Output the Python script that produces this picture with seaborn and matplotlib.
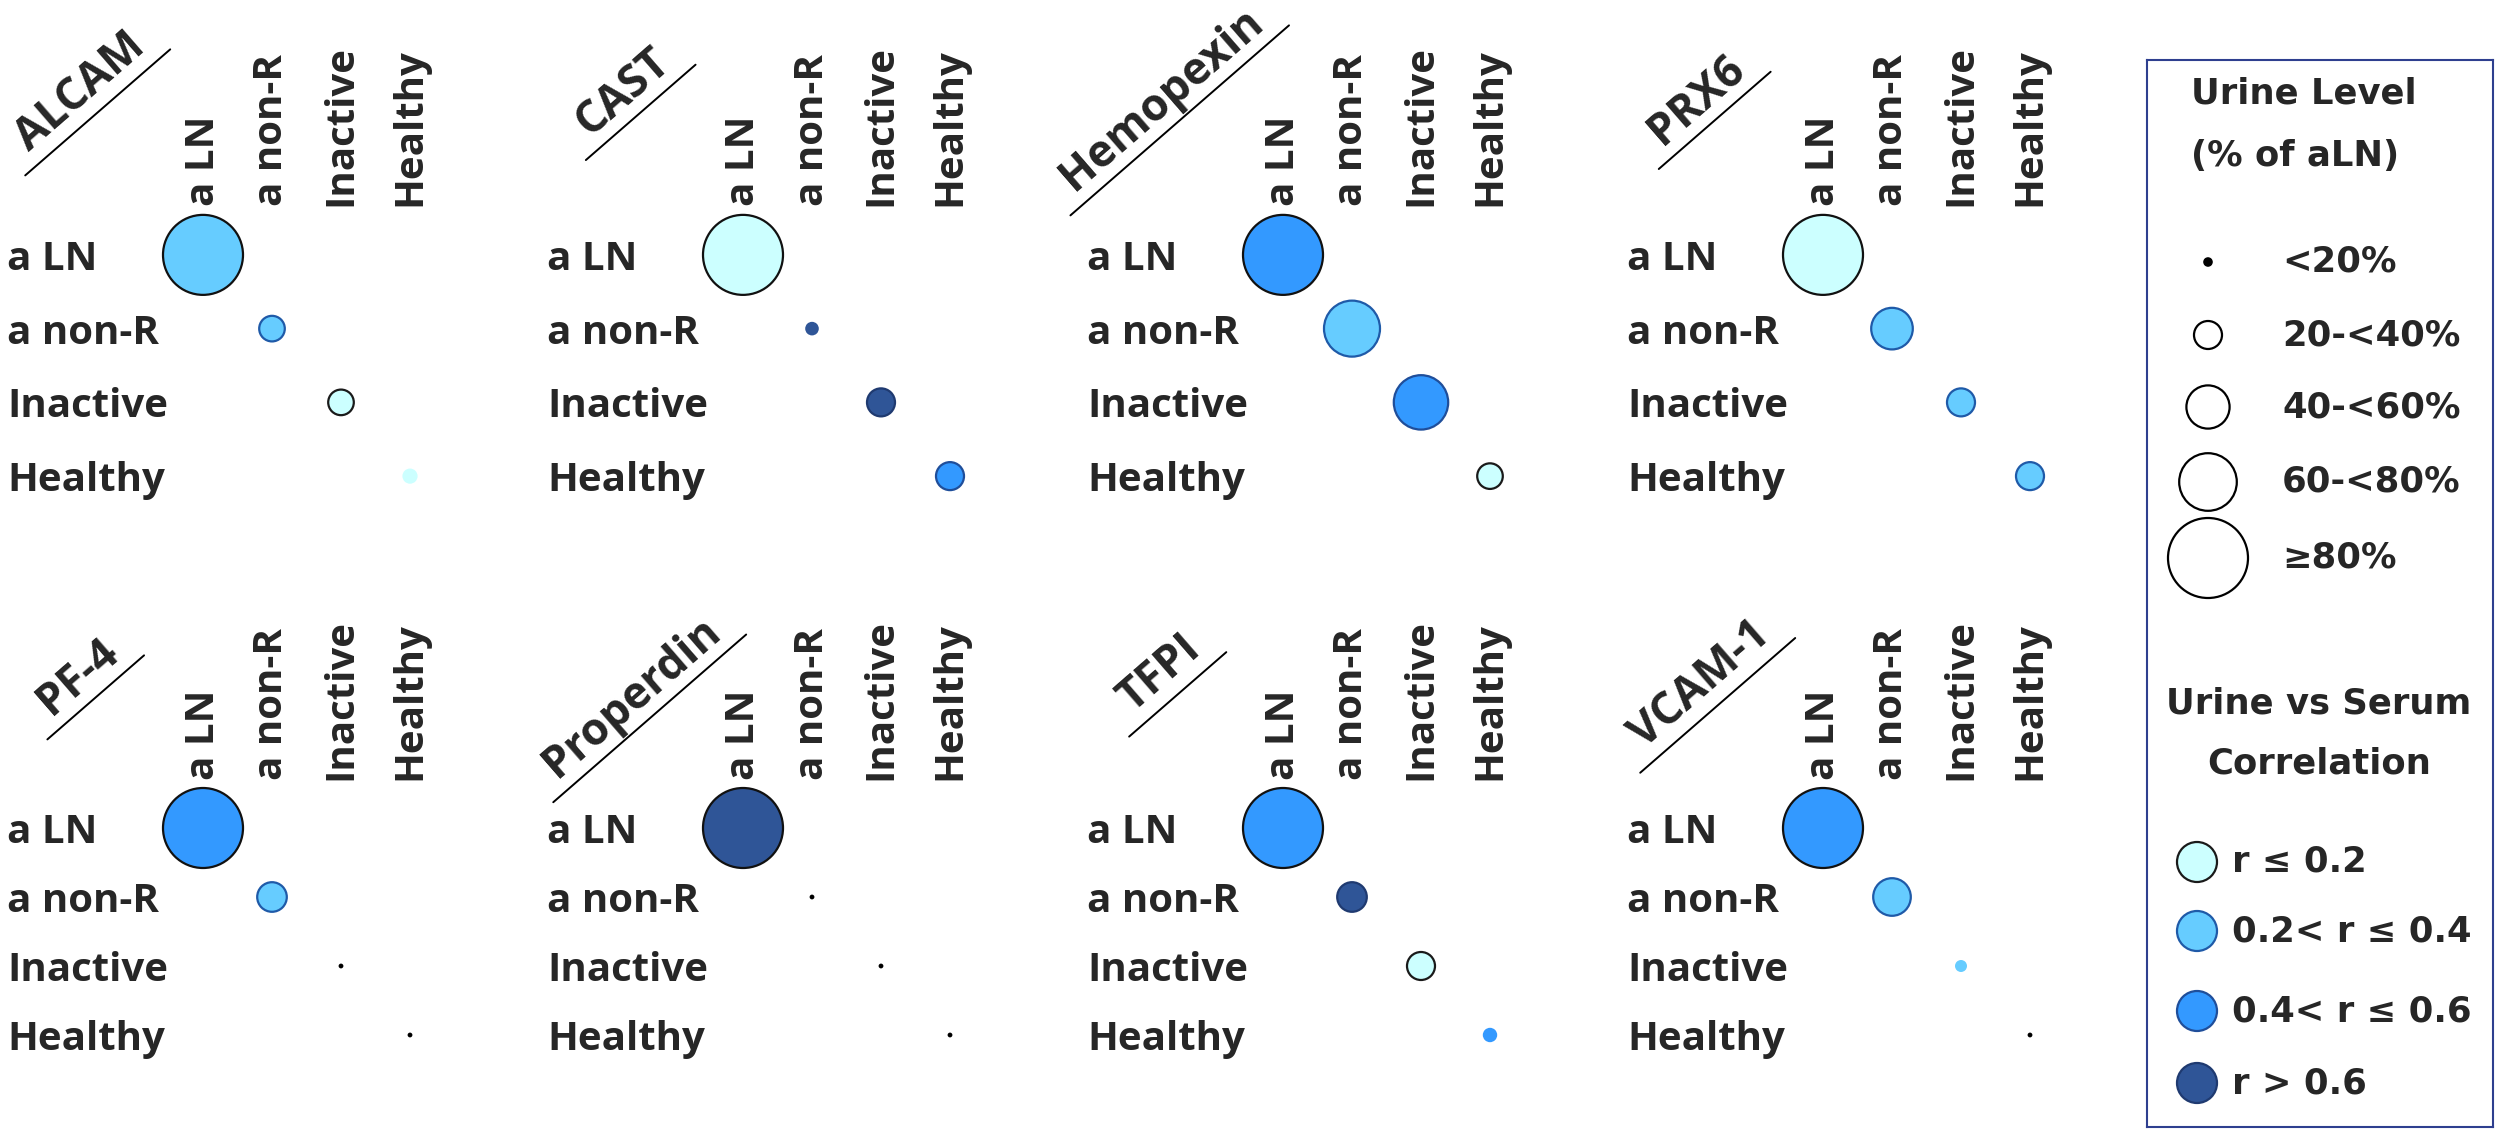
import numpy as np
import pandas as pd
import matplotlib
matplotlib.use("Agg")
import matplotlib.pyplot as plt
import seaborn as sns
from matplotlib.lines import Line2D

# ---- data ----
groups = ["a LN", "a non-R", "Inactive", "Healthy"]
proteins = ["ALCAM", "CAST", "Hemopexin", "PRX6",
            "PF-4", "Properdin", "TFPI", "VCAM-1"]

# urine level (% of aLN) for a LN, a non-R, Inactive, Healthy
alcam_level = [100, 32, 32, 19]
cast_level = [100, 17, 35, 35]
hemopexin_level = [100, 70, 68, 32]
prx6_level = [100, 52, 35, 35]
pf4_level = [100, 37, 6, 6]
properdin_level = [100, 6, 6, 6]
tfpi_level = [100, 37, 35, 18]
vcam1_level = [100, 47, 15, 6]

# urine vs serum correlation class
corr_labels = ["r \u2264 0.2", "0.2< r \u2264 0.4", "0.4< r \u2264 0.6", "r > 0.6"]
alcam_corr = ["0.2< r \u2264 0.4", "0.2< r \u2264 0.4", "r \u2264 0.2", "r \u2264 0.2"]
cast_corr = ["r \u2264 0.2", "r > 0.6", "r > 0.6", "0.4< r \u2264 0.6"]
hemopexin_corr = ["0.4< r \u2264 0.6", "0.2< r \u2264 0.4", "0.4< r \u2264 0.6", "r \u2264 0.2"]
prx6_corr = ["r \u2264 0.2", "0.2< r \u2264 0.4", "0.2< r \u2264 0.4", "0.2< r \u2264 0.4"]
pf4_corr = ["0.4< r \u2264 0.6", "0.2< r \u2264 0.4", "none", "none"]
properdin_corr = ["r > 0.6", "none", "none", "none"]
tfpi_corr = ["0.4< r \u2264 0.6", "r > 0.6", "r \u2264 0.2", "0.4< r \u2264 0.6"]
vcam1_corr = ["0.4< r \u2264 0.6", "0.2< r \u2264 0.4", "0.2< r \u2264 0.4", "none"]

levels = [alcam_level, cast_level, hemopexin_level, prx6_level,
          pf4_level, properdin_level, tfpi_level, vcam1_level]
corrs = [alcam_corr, cast_corr, hemopexin_corr, prx6_corr,
         pf4_corr, properdin_corr, tfpi_corr, vcam1_corr]

size_labels = ["<20%", "20-<40%", "40-<60%", "60-<80%", "\u226580%"]
size_levels = [12, 35, 54, 72, 100]
corr_legend_level = 50

# ---- style ----
W, H, DPI = 2498, 1143, 100
palette = {"r \u2264 0.2": "#CCFFFF", "0.2< r \u2264 0.4": "#66CCFF",
           "0.4< r \u2264 0.6": "#3399FF", "r > 0.6": "#2F5597",
           "none": "#000000", "blank": "#FFFFFF"}
edge_dark = {"r \u2264 0.2": "#1a1a1a", "0.2< r \u2264 0.4": "#1F5AA8",
             "0.4< r \u2264 0.6": "#1F4E9A", "r > 0.6": "#1F3A70",
             "none": "#000000", "blank": "#000000"}
S_MAX = (2 * 40 * 72 / DPI) ** 2  # marker area for 100 %

sns.set_style("white")
plt.rcParams["font.family"] = ["Open Sans", "DejaVu Sans"]
FS = 29
WEIGHT = "bold"
LEG_FONT = ["DejaVu Sans"]
LEG_FS = 25.5

fig = plt.figure(figsize=(W / DPI, H / DPI), dpi=DPI)


def fx(x):
    return x / W


def fy(y):
    return 1 - y / H


col_x0 = [0, 540, 1080, 1620]
rows_px = {0: (218, 513), 1: (793.5, 1069.5)}
xpad = {0: 8.5, 1: 10}
title_xy = [(80, 92), (623, 92), (1162, 100), (1697, 100),
            (78, 677), (632, 698), (1160, 674), (1700, 685)]


def draw_panel(k):
    row, col = divmod(k, 4)
    x0 = col_x0[col]
    top, bot = rows_px[row]
    left = x0 + 168.5
    ax = fig.add_axes([fx(left), fy(bot), 276 / W, (bot - top) / H])
    df = pd.DataFrame({"group": groups, "level": levels[k], "corr": corrs[k]})
    df["area"] = df["level"] ** 2
    sns.scatterplot(data=df, x="group", y="group", hue="corr", palette=palette,
                    size="area", sizes=(0, S_MAX), size_norm=(0, 10000),
                    legend=False, ax=ax, clip_on=False)
    pts = ax.collections[-1]
    pts.set_edgecolors([edge_dark[c] if lv < 90 else "#111111"
                        for c, lv in zip(df["corr"], df["level"])])
    pts.set_linewidths([1.6 if lv >= 20 else 0 for lv in df["level"]])

    ax.set_xlim(-0.5, 3.5)
    ax.set_ylim(3.5, -0.5)
    ax.set_xticks(range(4))
    ax.set_xticklabels(groups)
    ax.set_yticks(range(4))
    ax.set_yticklabels(groups)
    ax.xaxis.tick_top()
    ax.tick_params(axis="x", length=0, pad=xpad[row], labelrotation=90,
                   labelsize=FS)
    ax.tick_params(axis="y", length=0, pad=(left - x0 - 7) * 72 / DPI,
                   labelsize=FS)
    for lab in ax.get_xticklabels() + ax.get_yticklabels():
        lab.set_fontweight(WEIGHT)
    for lab in ax.get_yticklabels():
        lab.set_ha("left")
    ax.set_xlabel("")
    ax.set_ylabel("")
    for s in ax.spines.values():
        s.set_visible(False)
    ax.patch.set_alpha(0)


for k in range(8):
    draw_panel(k)

# rotated underlined titles
renderer = fig.canvas.get_renderer()
ROT = 41
ang = np.deg2rad(ROT)
for name, (cx, cy) in zip(proteins, title_xy):
    t = fig.text(fx(cx), fy(cy), name, rotation=ROT, rotation_mode="anchor",
                 ha="center", va="center", fontsize=32, fontweight=WEIGHT)
    w, h, d = renderer.get_text_width_height_descent(
        name, t.get_fontproperties(), ismath=False)
    half = w / 2 + 18
    off = 27
    ux, uy = cx + off * np.sin(ang), cy + off * np.cos(ang)
    x1, y1 = ux - half * np.cos(ang), uy + half * np.sin(ang)
    x2, y2 = ux + half * np.cos(ang), uy - half * np.sin(ang)
    fig.add_artist(Line2D([fx(x1), fx(x2)], [fy(y1), fy(y2)],
                          transform=fig.transFigure, color="black", lw=1.4))

# legend box
lx0, lx1, ly0, ly1 = 2147, 2493, 60, 1127
lax = fig.add_axes([fx(lx0), fy(ly1), (lx1 - lx0) / W, (ly1 - ly0) / H])
lax.set_xlim(lx0, lx1)
lax.set_ylim(ly1, ly0)
lax.set_xticks([])
lax.set_yticks([])
for s in lax.spines.values():
    s.set_color("#2E3F8F")
    s.set_linewidth(1.5)

size_y = [262, 335, 407, 482, 558]
leg_size = pd.DataFrame({"x": [2208] * 5, "y": size_y,
                         "area": np.array(size_levels) ** 2,
                         "fill": ["none"] + ["blank"] * 4})
sns.scatterplot(data=leg_size, x="x", y="y", hue="fill", palette=palette,
                size="area", sizes=(0, S_MAX), size_norm=(0, 10000),
                legend=False, ax=lax, clip_on=False)
lax.collections[-1].set_edgecolors("#000000")
lax.collections[-1].set_linewidths([0] + [1.6] * 4)

corr_y = [862, 931, 1011, 1083]
leg_corr = pd.DataFrame({"x": [2197] * 4, "y": corr_y,
                         "area": [corr_legend_level ** 2] * 4,
                         "corr": corr_labels})
sns.scatterplot(data=leg_corr, x="x", y="y", hue="corr", palette=palette,
                size="area", sizes=(0, S_MAX), size_norm=(0, 10000),
                legend=False, ax=lax, clip_on=False)
lax.collections[-1].set_edgecolors([edge_dark[c] for c in corr_labels])
lax.collections[-1].set_linewidths(1.6)
lax.set_xlabel("")
lax.set_ylabel("")

tkw = dict(fontsize=LEG_FS, fontweight="bold", va="center", family=LEG_FONT)
lax.text(2191, 94, "Urine Level", ha="left", **tkw)
lax.text(2191, 156, "(% of aLN)", ha="left", **tkw)
for lab, y in zip(size_labels, size_y):
    lax.text(2282, y, lab, ha="left", **tkw)
lax.text(2319, 703, "Urine vs Serum", ha="center", **tkw)
lax.text(2319, 764, "Correlation", ha="center", **tkw)
for lab, y in zip(corr_labels, corr_y):
    lax.text(2232, y, lab, ha="left", **tkw)

fig.savefig("out.png", dpi=DPI, facecolor="white")
